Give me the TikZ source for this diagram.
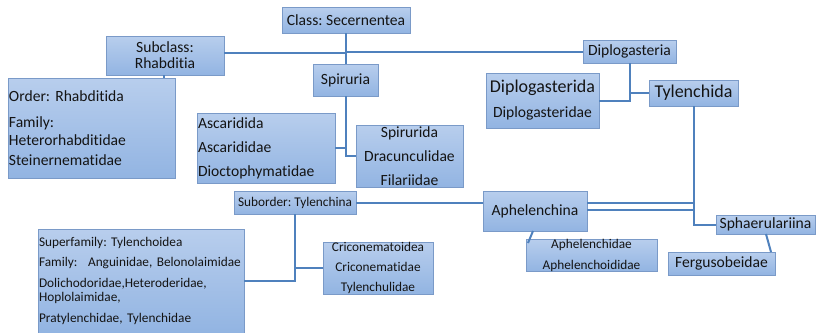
\documentclass[tikz,border=0pt]{standalone}
\usepackage{fontspec}
\setmainfont[Ligatures=NoCommon]{Carlito}
\definecolor{boxdraw}{RGB}{122,154,200}
\definecolor{boxtop}{RGB}{184,206,237}
\definecolor{boxbot}{RGB}{146,180,226}
\definecolor{linkc}{RGB}{79,129,189}
\definecolor{txt}{RGB}{20,20,20}
\newcommand\fmain{\fontsize{15.6}{19}\selectfont}
\newcommand\fsmall{\fontsize{13.3}{15}\selectfont}
\newcommand\fbig{\fontsize{18}{21}\selectfont}
\tikzset{
  box/.style={draw=boxdraw, line width=1pt, top color=boxtop, bottom color=boxbot,
    inner xsep=1pt, inner ysep=0pt, outer sep=0pt, anchor=north west, text=txt, font=\fmain},
  link/.style={draw=linkc, line width=2pt},
}
\begin{document}
\frenchspacing
\begin{tikzpicture}[x=1pt,y=-1pt]
\useasboundingbox (0,0) rectangle (819,332);
% boxes
\node[box, minimum width=128, minimum height=26] (cls) at (282,7) {Class: Secernentea};
\node[box, minimum width=118, minimum height=39, align=center] (sub) at (106,36) {Subclass:\\[-3pt]Rhabditia};
\node[box, minimum height=100, text width=165, align=left] (ord) at (8,78)
  {Order: Rhabditida\\[7pt]Family:\\[-1pt]Heterorhabditidae\\[1pt]Steinernematidae};
\node[box, minimum width=65, minimum height=32] (spi) at (313,64) {Spiruria};
\node[box, minimum height=70, text width=136, align=left] (asc) at (197,113)
  {Ascaridida\\[5pt]Ascarididae\\[5pt]Dioctophymatidae};
\node[box, minimum width=107, minimum height=62, align=center] (spd) at (356,125)
  {Spirurida\\[5pt]Dracunculidae\\[5pt]Filariidae};
\node[box, minimum width=93, minimum height=23] (dia) at (583,40) {Diplogasteria};
\node[box, minimum width=113, minimum height=55, align=center] (dgd) at (486,73)
  {{\fbig Diplogasterida}\\[6pt]Diplogasteridae};
\node[box, minimum width=89, minimum height=26, font=\fbig] (tyl) at (649,80) {Tylenchida};
\node[box, minimum width=122, minimum height=23, font=\fsmall] (sbo) at (234,191) {Suborder: Tylenchina};
\node[box, minimum height=104, text width=204, align=left, font=\fsmall] (sup) at (38,229)
  {Superfamily: Tylenchoidea\\[5pt]Family:\hspace{0.8em}Anguinidae, Belonolaimidae\\[6pt]Dolichodoridae,Heteroderidae,\\[-1pt]Hoplolaimidae,\\[6pt]Pratylenchidae, Tylenchidae};
\node[box, minimum width=110, minimum height=52, align=center, font=\fsmall] (cri) at (323,242)
  {Criconematoidea\\[5pt]Criconematidae\\[5pt]Tylenchulidae};
\node[box, minimum width=104, minimum height=40] (aph) at (483,191) {Aphelenchina};
\node[box, minimum width=131, minimum height=32, align=center, font=\fsmall] (apd) at (526,239)
  {Aphelenchidae\\[6pt]Aphelenchoididae};
\node[box, minimum width=99, minimum height=19] (sph) at (716,215) {Sphaerulariina};
\node[box, minimum width=107, minimum height=23] (fer) at (668,252) {Fergusobeidae};
% helper coordinates
\coordinate (j1) at (346,53);
\coordinate (os) at (164,0);
\coordinate (a1) at (0,203);
\coordinate (a2) at (0,210);
\coordinate (p1) at (533,231);
\coordinate (p2) at (528,243);
\coordinate (f1) at (766,234);
\coordinate (f2) at (771,252);
% connectors
\draw[link] (cls.south) -- (cls.south |- spi.north);
\draw[link] (sub.east |- j1) -- (j1);
\draw[link] (cls.south |- dia.west) -- (dia.west);
\draw[link] (sub.south -| os) -- (ord.north -| os);
\draw[link] (spi.south) |- (spd.west);
\draw[link] (asc.east) -- (asc.east -| spi.south);
\draw[link] (dia.south) |- (dgd.east);
\draw[link] (dia.south |- tyl.west) -- (tyl.west);
\draw[link] (tyl.south) |- (sph.west);
\draw[link] (aph.east |- a1) -- (tyl.south |- a1);
\draw[link] (aph.east |- a2) -- (tyl.south |- a2);
\draw[link] (sbo.east) -- (sbo.east -| aph.west);
\draw[link] (sbo.south) |- (sup.east);
\draw[link] (sbo.south |- cri.west) -- (cri.west);
\draw[link] (p1) -- (p2);
\draw[link] (f1) -- (f2);
\end{tikzpicture}
\end{document}
